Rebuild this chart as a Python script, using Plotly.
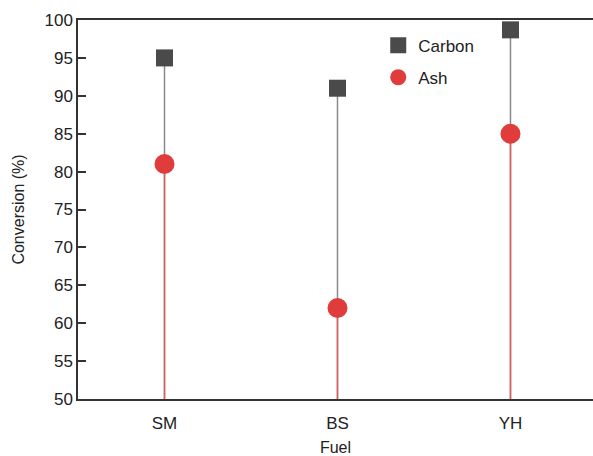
import plotly.graph_objects as go

# Fuel types and conversion values (%)
fuels = ["SM", "BS", "YH"]
carbon = [95, 91, 98.7]
ash = [81, 62, 85]
y_ticks = [50, 55, 60, 65, 70, 75, 80, 85, 90, 95, 100]
base = 50


def stems(values):
    xs, ys = [], []
    for f, v in zip(fuels, values):
        xs += [f, f, None]
        ys += [base, v, None]
    return xs, ys


fig = go.Figure()

cx, cy = stems(carbon)
fig.add_trace(go.Scatter(x=cx, y=cy, mode="lines", line=dict(color="#8a8a8a", width=1.5),
                         showlegend=False, hoverinfo="skip"))
ax, ay = stems(ash)
fig.add_trace(go.Scatter(x=ax, y=ay, mode="lines", line=dict(color="#e05a5a", width=1.5),
                         showlegend=False, hoverinfo="skip"))

fig.add_trace(go.Scatter(x=fuels, y=carbon, mode="markers", name="Carbon", legendgroup="c",
                         marker=dict(symbol="square", size=17, color="#4a4a4a",
                                     line=dict(width=0))))
fig.add_trace(go.Scatter(x=fuels, y=ash, mode="markers", name="Ash", legendgroup="a",
                         marker=dict(symbol="circle", size=20, color="#e03c3c",
                                     line=dict(width=0))))

font_family = "Liberation Sans, Arial, sans-serif"

fig.update_layout(
    width=593, height=456,
    margin=dict(l=78, r=0, t=20, b=57),
    paper_bgcolor="white", plot_bgcolor="white",
    font=dict(family=font_family, size=17, color="#222"),
    legend=dict(x=0.583, y=0.98, xanchor="left", yanchor="top",
                bgcolor="rgba(0,0,0,0)", font=dict(size=17),
                itemsizing="trace", tracegroupgap=7),
    xaxis=dict(
        categoryorder="array", categoryarray=fuels,
        range=[-0.5, 2.477], automargin=False,
        showline=True, linecolor="#333", linewidth=1.5, mirror=True,
        ticks="", showgrid=False, zeroline=False,
        tickfont=dict(size=17), ticklabelstandoff=8,
        title=dict(text="Fuel", font=dict(size=16), standoff=22),
    ),
    yaxis=dict(
        range=[50, 100], tickvals=y_ticks, automargin=False,
        showline=True, linecolor="#333", linewidth=1.5, mirror=False,
        ticks="inside", ticklen=8, tickwidth=1.5, tickcolor="#333",
        showgrid=False, zeroline=False,
        tickfont=dict(size=17),
        title=dict(text="Conversion (%)", font=dict(size=16), standoff=16),
    ),
)

fig.write_html("out.html")
